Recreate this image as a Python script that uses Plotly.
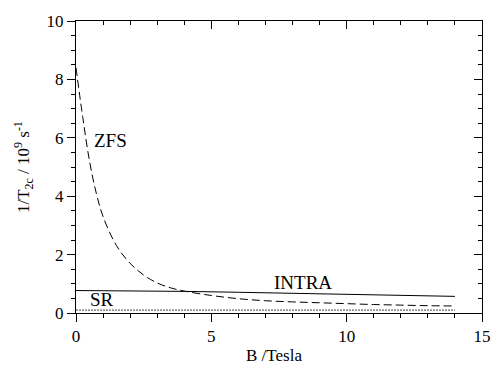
import plotly.graph_objects as go

# Data
b_zfs = [0, 0.25, 0.5, 0.75, 1, 1.5, 2, 2.5, 3, 3.5, 4, 5, 6, 7, 8, 9, 10, 11, 12, 13, 14]
zfs = [8.4, 6.7, 5.2, 4.1, 3.3, 2.3, 1.7, 1.3, 1.03, 0.86, 0.75, 0.6, 0.49, 0.42, 0.38, 0.35, 0.32, 0.29, 0.27, 0.25, 0.24]
b_intra = [0, 2, 4, 6, 8, 10, 12, 14]
intra = [0.77, 0.76, 0.74, 0.71, 0.67, 0.63, 0.60, 0.57]
b_sr = [0, 14]
sr = [0.1, 0.1]

x_ticks = [0, 5, 10, 15]
y_ticks = [0, 2, 4, 6, 8, 10]

FONT = "Times New Roman, Liberation Serif, serif"

fig = go.Figure()
fig.add_trace(go.Scatter(x=b_zfs, y=zfs, mode="lines", line=dict(color="black", width=1, dash="8px,4px"),
                         line_shape="spline", showlegend=False))
fig.add_trace(go.Scatter(x=b_intra, y=intra, mode="lines", line=dict(color="black", width=1), showlegend=False))
fig.add_trace(go.Scatter(x=b_sr, y=sr, mode="lines", line=dict(color="#444", width=1, dash="2px,1px"), showlegend=False))
# invisible trace to activate the mirrored (top/right) axes
fig.add_trace(go.Scatter(x=[None], y=[None], xaxis="x2", yaxis="y2", showlegend=False, hoverinfo="skip"))

tick_font = dict(family=FONT, size=17, color="black")
axis_common = dict(showgrid=False, zeroline=False, linecolor="black", linewidth=1, tickcolor="black")

L, R, T, B = 76, 482, 21, 313

fig.update_layout(
    width=492, height=366,
    margin=dict(l=L, r=492 - R, t=T, b=366 - B, autoexpand=False),
    paper_bgcolor="white", plot_bgcolor="white",
    font=dict(family=FONT, color="black", size=17),
    xaxis=dict(range=[0, 15], tickvals=x_ticks, ticks="outside", ticklen=8, tickwidth=1,
               tickfont=tick_font,
               minor=dict(dtick=1, ticks="outside", ticklen=4, tickcolor="black"),
               showline=True, **axis_common),
    yaxis=dict(range=[0, 10], tickvals=y_ticks, ticks="outside", ticklen=8, tickwidth=1,
               tickfont=tick_font,
               minor=dict(dtick=0.5, ticks="outside", ticklen=4, tickcolor="black"),
               showline=True, **axis_common),
    xaxis2=dict(range=[0, 15], overlaying="x", side="top", anchor="y", tickvals=x_ticks, ticks="inside",
                ticklen=8, showticklabels=False,
                minor=dict(dtick=1, ticks="inside", ticklen=4, tickcolor="black"),
                showline=True, **axis_common),
    yaxis2=dict(range=[0, 10], overlaying="y", side="right", anchor="x", tickvals=y_ticks, ticks="inside",
                ticklen=8, showticklabels=False,
                minor=dict(dtick=0.5, ticks="inside", ticklen=4, tickcolor="black"),
                showline=True, **axis_common),
    annotations=[
        dict(text="ZFS", x=1.27, y=5.9, xref="x", yref="y", showarrow=False,
             font=dict(family=FONT, size=19, color="black"), xanchor="center", yanchor="middle"),
        dict(text="INTRA", x=8.4, y=1.05, xref="x", yref="y", showarrow=False,
             font=dict(family=FONT, size=19, color="black"), xanchor="center", yanchor="middle"),
        dict(text="SR", x=0.95, y=0.45, xref="x", yref="y", showarrow=False,
             font=dict(family=FONT, size=19, color="black"), xanchor="center", yanchor="middle"),
        dict(text="B /Tesla", x=(274 - L) / (R - L), y=-(355 - B) / (B - T),
             xref="paper", yref="paper", showarrow=False, xanchor="center", yanchor="middle",
             font=dict(family=FONT, size=17, color="black")),
        dict(text="1/T<sub>2c</sub> / 10<sup>9</sup> s<sup>-1</sup>", textangle=-90,
             x=-(L - 23) / (R - L), y=0.5, xref="paper", yref="paper", showarrow=False,
             font=dict(family=FONT, size=17, color="black"), xanchor="center", yanchor="middle"),
    ],
)

fig.write_html("out.html", config={"displayModeBar": False},
               post_script="document.body.style.margin='0';document.body.style.padding='0';")
